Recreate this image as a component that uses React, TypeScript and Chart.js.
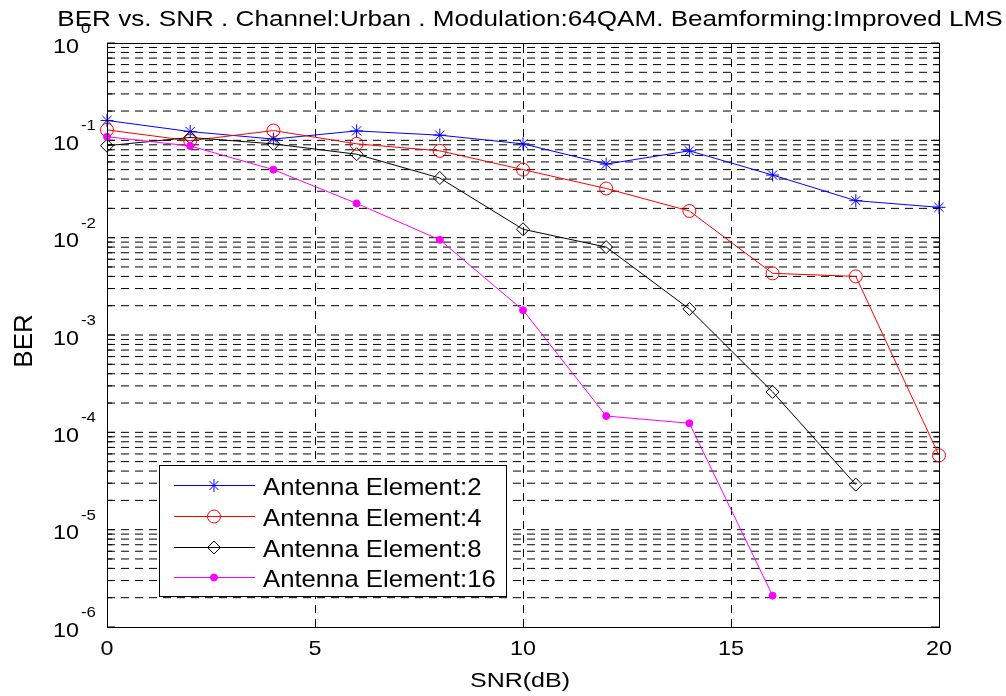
import React, { useEffect, useRef } from 'react';
import { Chart, registerables } from 'chart.js';

Chart.register(...registerables);

// ---- data ----
const snr = [0, 2, 4, 6, 8, 10, 12, 14, 16, 18, 20];
const ber2 = [0.16, 0.123, 0.103, 0.125, 0.113, 0.092, 0.057, 0.078, 0.044, 0.024, 0.0205];
const ber4 = [0.128, 0.099, 0.126, 0.092, 0.078, 0.05, 0.032, 0.0188, 0.0043, 0.004, 5.8e-5];
const ber8 = [0.088, 0.107, 0.092, 0.072, 0.041, 0.0122, 0.008, 0.00185, 2.6e-4, 2.9e-5];
const ber16 = [0.109, 0.0875, 0.05, 0.0225, 0.0095, 0.0018, 1.47e-4, 1.24e-4, 2.1e-6];
const seriesLabels = ['Antenna Element:2', 'Antenna Element:4', 'Antenna Element:8', 'Antenna Element:16'];
const xTickValues = [0, 5, 10, 15, 20];
const yTickExponents = [-6, -5, -4, -3, -2, -1, 0];
const titleText = 'BER vs. SNR . Channel:Urban . Modulation:64QAM. Beamforming:Improved LMS';
const xTitle = 'SNR(dB)';
const yTitle = 'BER';

const FONT = '"Liberation Sans", Arial, sans-serif';

const toPoints = (ys: number[]) => ys.map((v, i) => ({ x: snr[i], y: v }));

// text drawn slightly wider, like the reference's rendering
function sText(ctx: CanvasRenderingContext2D, text: string, x: number, y: number, align: string, sx: number) {
  const w = ctx.measureText(text).width * sx;
  const left = align === 'center' ? x - w / 2 : align === 'right' ? x - w : x;
  ctx.save();
  ctx.translate(left, y);
  ctx.scale(sx, 1);
  ctx.textAlign = 'left';
  ctx.fillText(text, 0, 0);
  ctx.restore();
}

function drawMarker(ctx: CanvasRenderingContext2D, style: string, x: number, y: number, r: number, color: string, fill: boolean) {
  ctx.save();
  ctx.strokeStyle = color;
  ctx.fillStyle = color;
  ctx.lineWidth = 1;
  ctx.setLineDash([]);
  ctx.beginPath();
  if (style === 'star') {
    const d = r * Math.SQRT1_2;
    ctx.moveTo(x, y - r); ctx.lineTo(x, y + r);
    ctx.moveTo(x - r, y); ctx.lineTo(x + r, y);
    ctx.moveTo(x - d, y - d); ctx.lineTo(x + d, y + d);
    ctx.moveTo(x - d, y + d); ctx.lineTo(x + d, y - d);
    ctx.stroke();
  } else if (style === 'rectRot') {
    ctx.moveTo(x - r, y); ctx.lineTo(x, y - r); ctx.lineTo(x + r, y); ctx.lineTo(x, y + r); ctx.closePath();
    if (fill) ctx.fill();
    ctx.stroke();
  } else {
    ctx.arc(x, y, r, 0, Math.PI * 2);
    if (fill) ctx.fill();
    ctx.stroke();
  }
  ctx.restore();
}

const matlabPlugin = {
  id: 'matlabLook',
  beforeDraw(chart: any) {
    const { ctx, width, height } = chart;
    ctx.save();
    ctx.fillStyle = '#ffffff';
    ctx.fillRect(0, 0, width, height);
    ctx.restore();
  },
  beforeDatasetsDraw(chart: any) {
    const { ctx, chartArea: a, scales } = chart;
    const xs = scales.x, ys = scales.y;
    ctx.save();
    ctx.beginPath();
    ctx.rect(a.left, a.top, a.right - a.left, a.bottom - a.top);
    ctx.clip();
    ctx.lineWidth = 1;
    ctx.strokeStyle = '#000000';
    ctx.setLineDash([8, 6]);
    for (let e = -6; e < 0; e++) {
      for (let m = 1; m <= 9; m++) {
        const v = m * Math.pow(10, e);
        if (v <= ys.min * 1.0001) continue;
        const py = ys.getPixelForValue(v);
        ctx.beginPath();
        ctx.moveTo(a.left, py);
        ctx.lineTo(a.right, py);
        ctx.stroke();
      }
    }
    xTickValues.forEach((t) => {
      if (t <= xs.min || t >= xs.max) return;
      const px = Math.round(xs.getPixelForValue(t)) + 0.5;
      ctx.beginPath();
      ctx.moveTo(px, a.bottom);
      ctx.lineTo(px, a.top);
      ctx.stroke();
    });
    ctx.restore();

    ctx.save();
    ctx.strokeStyle = '#000';
    ctx.lineWidth = 1;
    ctx.setLineDash([]);
    ctx.beginPath();
    for (let e = -6; e <= 0; e++) {
      for (let m = 1; m <= 9; m++) {
        const v = m * Math.pow(10, e);
        if (v > ys.max * 1.0001) continue;
        const py = ys.getPixelForValue(v);
        const len = m === 1 ? 8 : 5;
        ctx.moveTo(a.left, py); ctx.lineTo(a.left + len, py);
        ctx.moveTo(a.right, py); ctx.lineTo(a.right - len, py);
      }
    }
    xTickValues.forEach((t) => {
      const px = Math.round(xs.getPixelForValue(t)) + 0.5;
      ctx.moveTo(px, a.bottom); ctx.lineTo(px, a.bottom - 8);
      ctx.moveTo(px, a.top); ctx.lineTo(px, a.top + 8);
    });
    ctx.stroke();
    ctx.restore();
  },
  afterDraw(chart: any) {
    const { ctx, chartArea: a, scales } = chart;
    const xs = scales.x, ys = scales.y;
    ctx.save();
    ctx.strokeStyle = '#000';
    ctx.lineWidth = 1;
    ctx.setLineDash([]);
    ctx.strokeRect(Math.round(a.left) + 0.5, Math.round(a.top) + 0.5, Math.round(a.right - a.left), Math.round(a.bottom - a.top));

    ctx.fillStyle = '#000';
    ctx.textBaseline = 'alphabetic';
    // y tick labels 10^e
    yTickExponents.forEach((e) => {
      const py = ys.getPixelForValue(Math.pow(10, e));
      ctx.font = `21px ${FONT}`;
      sText(ctx, '10', 79, py + 9.5, 'right', 1.11);
      ctx.font = `14px ${FONT}`;
      sText(ctx, String(e), 81, py - 10, 'left', 1.2);
    });
    // x tick labels
    ctx.font = `21px ${FONT}`;
    xTickValues.forEach((t) => {
      sText(ctx, String(t), xs.getPixelForValue(t), a.bottom + 28, 'center', 1.11);
    });
    // x title
    sText(ctx, xTitle, 520, a.bottom + 60, 'center', 1.19);
    // title
    ctx.font = `22px ${FONT}`;
    sText(ctx, titleText, 530, 26, 'center', 1.186);
    // y title
    ctx.save();
    ctx.translate(32, 341);
    ctx.rotate(-Math.PI / 2);
    ctx.scale(1.08, 1.1);
    ctx.font = `24px ${FONT}`;
    ctx.textAlign = 'center';
    ctx.fillText(yTitle, 0, 0);
    ctx.restore();

    // legend
    const lx0 = 159, ly0 = 465, lx1 = 506, ly1 = 596;
    ctx.fillStyle = '#fff';
    ctx.fillRect(lx0, ly0, lx1 - lx0, ly1 - ly0);
    ctx.strokeStyle = '#000';
    ctx.strokeRect(lx0 + 0.5, ly0 + 0.5, lx1 - lx0, ly1 - ly0);
    const rowY = [485, 516, 547, 577];
    chart.data.datasets.forEach((ds: any, i: number) => {
      const yy = rowY[i] + 0.5;
      ctx.strokeStyle = ds.borderColor;
      ctx.lineWidth = 1;
      ctx.beginPath();
      ctx.moveTo(174, yy);
      ctx.lineTo(255, yy);
      ctx.stroke();
      drawMarker(ctx, ds.pointStyle, 214, yy, ds.pointRadius, ds.borderColor, ds.pointBackgroundColor !== 'transparent');
      ctx.fillStyle = '#000';
      ctx.font = `24px ${FONT}`;
      ctx.textBaseline = 'alphabetic';
      sText(ctx, ds.label, 263, yy + 9, 'left', 1.07);
    });
    ctx.restore();
  },
};

export default function App() {
  const ref = useRef<HTMLCanvasElement>(null);
  useEffect(() => {
    document.body.style.margin = '0';
    const canvas = ref.current;
    if (!canvas) return;
    const mk = (label: string, ys: number[], color: string, style: string, r: number, filled: boolean, order: number) => ({
      label,
      data: toPoints(ys),
      borderColor: color,
      backgroundColor: color,
      borderWidth: 1,
      pointStyle: style,
      pointRadius: r,
      pointBorderWidth: 1,
      pointBorderColor: color,
      pointBackgroundColor: filled ? color : 'transparent',
      tension: 0,
      clip: false,
      order,
    });
    const chart = new Chart(canvas, {
      type: 'line',
      data: {
        datasets: [
          mk(seriesLabels[0], ber2, '#0000ff', 'star', 6.5, false, 4),
          mk(seriesLabels[1], ber4, '#ff0000', 'circle', 6.5, false, 3),
          mk(seriesLabels[2], ber8, '#000000', 'rectRot', 6.5, false, 2),
          mk(seriesLabels[3], ber16, '#ff00ff', 'circle', 3.5, true, 1),
        ],
      },
      options: {
        responsive: false,
        animation: false,
        devicePixelRatio: 1,
        layout: { padding: { left: 0, top: 43, right: 67, bottom: 0 } },
        plugins: { legend: { display: false }, title: { display: false }, tooltip: { enabled: false } },
        scales: {
          x: {
            type: 'linear',
            min: 0,
            max: 20,
            ticks: { display: false },
            grid: { display: false },
            border: { display: false },
            afterFit: (s: any) => { s.height = 69; },
          },
          y: {
            type: 'logarithmic',
            min: 1e-6,
            max: 1,
            ticks: { display: false },
            grid: { display: false },
            border: { display: false },
            afterFit: (s: any) => { s.width = 107; },
          },
        },
      },
      plugins: [matlabPlugin],
    } as any);
    return () => chart.destroy();
  }, []);
  return <canvas ref={ref} width={1006} height={696} style={{ display: 'block' }} />;
}
